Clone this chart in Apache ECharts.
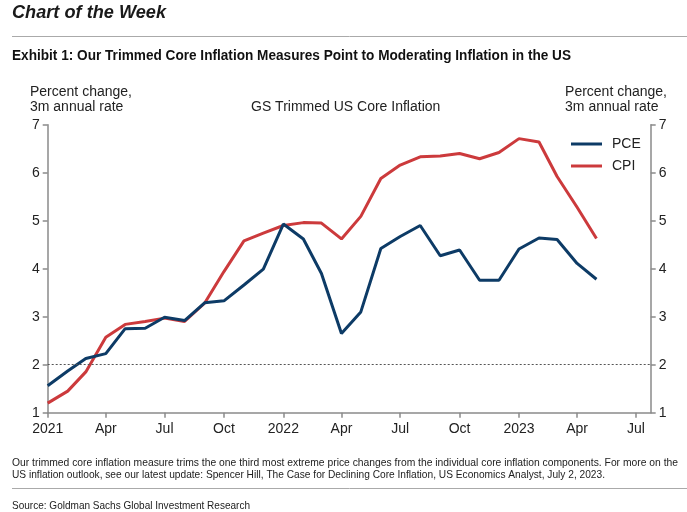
<!DOCTYPE html>
<html><head><meta charset="utf-8">
<script src="https://cdn.jsdelivr.net/npm/echarts@6/dist/echarts.min.js"></script>
<style>html,body{margin:0;padding:0;background:#fff}#c{width:687px;height:512px}</style>
</head><body><div id="c"></div>
<script>
// ---- data ----
const months = ['2021-01','2021-02','2021-03','2021-04','2021-05','2021-06','2021-07','2021-08','2021-09','2021-10','2021-11','2021-12',
  '2022-01','2022-02','2022-03','2022-04','2022-05','2022-06','2022-07','2022-08','2022-09','2022-10','2022-11','2022-12',
  '2023-01','2023-02','2023-03','2023-04','2023-05'];
const pce = [1.56,1.87,2.13,2.23,2.75,2.76,2.99,2.92,3.29,3.33,3.66,3.99,
  4.93,4.62,3.90,2.65,3.10,4.42,4.67,4.90,4.27,4.39,3.76,3.76,
  4.41,4.64,4.61,4.11,3.78];
const cpi = [1.20,1.45,1.85,2.57,2.84,2.90,2.97,2.90,3.28,3.94,4.58,4.74,
  4.90,4.96,4.95,4.62,5.09,5.88,6.16,6.33,6.35,6.40,6.29,6.42,
  6.71,6.64,5.92,5.28,4.63];
const tickMonths = ['2021-01','2021-04','2021-07','2021-10','2022-01','2022-04','2022-07','2022-10','2023-01','2023-04','2023-07'];
const tickLabels = ['2021','Apr','Jul','Oct','2022','Apr','Jul','Oct','2023','Apr','Jul'];
const axisEnd = '2023-07-24';
const yTicks = [1,2,3,4,5,6,7];
const targetLine = 2;

// ---- helpers ----
const base = Date.UTC(2021,0,1);
function dayOf(s){ const p = s.split('-').map(Number); return Math.round((Date.UTC(p[0],p[1]-1,p[2]||1)-base)/86400000); }
const tickDays = tickMonths.map(dayOf);
const labelMap = {}; tickDays.forEach((d,i)=>labelMap[d]=tickLabels[i]);

const NAVY = '#0d3b66', RED = '#cc3a3c', AX = '#8a8a8a', TXT = '#222';
const F = 'Liberation Sans, Arial, sans-serif';
const mctx = document.createElement('canvas').getContext('2d');
// narrow text: render in Liberation Sans and squeeze horizontally to the target width
function narrow(text, font, x, y, targetW, fill){
  mctx.font = font;
  const w = mctx.measureText(text).width;
  return {type:'text', x:x, y:y, scaleX:targetW/w, scaleY:1,
    style:{text:text, font:font, fill:fill, align:'left', verticalAlign:'top', textAlign:'left', textVerticalAlign:'top'}};
}

const chart = echarts.init(document.getElementById('c'), null, {renderer:'canvas'});
const yAxisCommon = {
  type:'value', min:yTicks[0], max:yTicks[yTicks.length-1], interval:1,
  axisLine:{show:true, lineStyle:{color:AX, width:1.5}},
  axisTick:{show:true, length:5, lineStyle:{color:AX, width:1.5}},
  axisLabel:{color:TXT, fontSize:14, fontFamily:F, margin:8},
  splitLine:{show:false}
};
const fn1 = 'Our trimmed core inflation measure trims the one third most extreme price changes from the individual core inflation components. For more on the';
const fn2 = 'US inflation outlook, see our latest update: Spencer Hill, The Case for Declining Core Inflation, US Economics Analyst, July 2, 2023.';
chart.setOption({
  animation:false,
  backgroundColor:'#fff',
  grid:{left:47.7, right:36.3, top:124.7, bottom:99.3, containLabel:false},
  xAxis:{
    type:'value', min:0, max:dayOf(axisEnd),
    axisLine:{show:true, onZero:false, lineStyle:{color:AX, width:1.5}},
    axisTick:{show:true, length:5, customValues:tickDays, lineStyle:{color:AX, width:1.5}},
    axisLabel:{customValues:tickDays, formatter:v=>labelMap[v]||'', color:TXT, fontSize:14, fontFamily:F, margin:9},
    splitLine:{show:false}
  },
  yAxis:[Object.assign({position:'left'}, yAxisCommon), Object.assign({position:'right'}, yAxisCommon)],
  legend:{
    orient:'vertical', left:566, top:132, itemWidth:31, itemHeight:3, itemGap:8,
    icon:'rect',
    textStyle:{color:TXT, fontSize:14, fontFamily:F, padding:[0,0,0,5]},
    data:['PCE','CPI']
  },
  series:[
    {name:'PCE', type:'line', showSymbol:false, symbol:'none', color:NAVY,
     lineStyle:{color:NAVY, width:3}, data:months.map((m,i)=>[dayOf(m), pce[i]]),
     markLine:{silent:true, symbol:'none', label:{show:false},
       lineStyle:{color:'#555', type:[2,2], width:1}, data:[{yAxis:targetLine}]}, z:3},
    {name:'CPI', type:'line', showSymbol:false, symbol:'none', color:RED,
     lineStyle:{color:RED, width:3}, data:months.map((m,i)=>[dayOf(m), cpi[i]]), z:2}
  ],
  graphic:[
    narrow('Chart of the Week', 'italic bold 18px '+F, 12, 4, 154, '#1a1a1a'),
    {type:'line', shape:{x1:12, y1:36.5, x2:687, y2:36.5}, style:{stroke:'#aaa', lineWidth:1}},
    narrow('Exhibit 1: Our Trimmed Core Inflation Measures Point to Moderating Inflation in the US', 'bold 14px '+F, 12, 49, 559, '#111'),
    {type:'text', left:30, top:84, style:{text:'Percent change,\n3m annual rate', font:'14px '+F, lineHeight:15.5, fill:TXT}},
    {type:'text', right:20, top:84, style:{text:'Percent change,\n3m annual rate', font:'14px '+F, lineHeight:15.5, fill:TXT, align:'right'}},
    {type:'text', left:251, top:100, style:{text:'GS Trimmed US Core Inflation', font:'14px '+F, fill:TXT}},
    narrow(fn1, '11px '+F, 12, 457, 666, '#222'),
    narrow(fn2, '11px '+F, 12, 469, 593, '#222'),
    {type:'line', shape:{x1:12, y1:488.5, x2:687, y2:488.5}, style:{stroke:'#aaa', lineWidth:1}},
    narrow('Source: Goldman Sachs Global Investment Research', '11px '+F, 12, 500, 238, '#222')
  ]
});
</script>
</body></html>
